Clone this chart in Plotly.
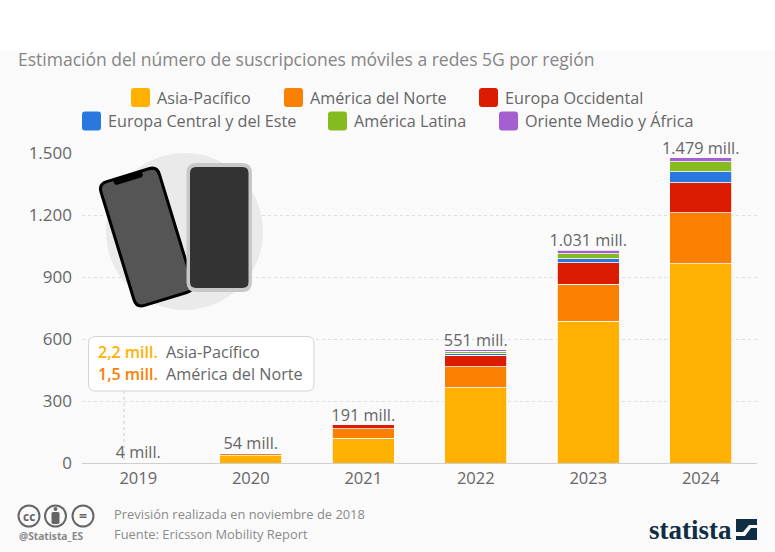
import math
import plotly.graph_objects as go

years = ["2019", "2020", "2021", "2022", "2023", "2024"]
series_names = ["Asia-Pacífico", "América del Norte", "Europa Occidental",
                "Europa Central y del Este", "América Latina", "Oriente Medio y África"]
asia = [2.2, 34, 120, 364, 687, 963]
north_america = [1.5, 14, 46, 102, 178, 248]
west_europe = [0, 0, 19, 56, 103, 145]
central_europe = [0, 0, 0, 10, 21, 54]
latin_america = [0, 0, 0, 9, 24, 48]
middle_east = [0.3, 0, 0, 6, 16, 18]
total_labels = ["4 mill.", "54 mill.", "191 mill.", "551 mill.", "1.031 mill.", "1.479 mill."]
colors = ["#ffb000", "#f98000", "#dc1c00", "#2a77e0", "#86bb1f", "#a45fd0"]
y_ticks = [0, 300, 600, 900, 1200, 1500]
y_labels = ["0", "300", "600", "900", "1.200", "1.500"]

FONT = "Open Sans"
W, H = 775, 552
L, R, T, B = 82, 757, 153, 463


def px(x):
    return (x - L) / (R - L)


def py(y):
    return (B - y) / (B - T)


def rrect(x0, y0, x1, y1, r, angle=0.0, pivot=None):
    cx, cy = pivot or ((x0 + x1) / 2, (y0 + y1) / 2)
    a = math.radians(angle)

    def p(x, y):
        dx, dy = x - cx, y - cy
        return (f"{px(cx + dx * math.cos(a) - dy * math.sin(a)):.5f},"
                f"{py(cy + dx * math.sin(a) + dy * math.cos(a)):.5f}")
    return (f"M{p(x0 + r, y0)} L{p(x1 - r, y0)} Q{p(x1, y0)} {p(x1, y0 + r)} "
            f"L{p(x1, y1 - r)} Q{p(x1, y1)} {p(x1 - r, y1)} L{p(x0 + r, y1)} "
            f"Q{p(x0, y1)} {p(x0, y1 - r)} L{p(x0, y0 + r)} Q{p(x0, y0)} {p(x0 + r, y0)} Z")


def poly(points):
    return "M" + " L".join(f"{px(x):.5f},{py(y):.5f}" for x, y in points) + " Z"


def box_shape(path, fill, line=None, lw=0):
    return dict(type="path", xref="paper", yref="paper", path=path, fillcolor=fill,
                line=dict(color=line or fill, width=lw), layer="above")


def text(x, y, s, size=15, color="#666666", anchor="left", family=FONT, weight=None):
    font = dict(family=family, size=size, color=color)
    if weight:
        font["weight"] = weight
    return dict(xref="paper", yref="paper", x=px(x), y=py(y), text=s, showarrow=False,
                xanchor=anchor, yanchor="middle", font=font, borderpad=0)


fig = go.Figure()
columns = [asia, north_america, west_europe, central_europe, latin_america, middle_east]
for name, values, color in zip(series_names, columns, colors):
    fig.add_bar(x=years, y=values, name=name, marker=dict(color=color, line=dict(color="#fafafa", width=0.8)))

stack_tops = [sum(c[i] for c in columns) for i in range(len(years))]
fig.add_scatter(x=years, y=stack_tops, mode="text", text=total_labels, textposition="top center",
                textfont=dict(family=FONT, size=16.3, color="#666666"), showlegend=False, cliponaxis=False)

PH = (146, 236.5)  # pivot of the tilted phone
shapes = [
    dict(type="rect", xref="paper", yref="paper", x0=px(0), x1=px(W), y0=py(0), y1=py(51),
         fillcolor="#ffffff", line=dict(width=0), layer="below"),
    dict(type="circle", xref="paper", yref="paper", x0=px(106), x1=px(263), y0=py(153), y1=py(310),
         fillcolor="#eaeaea", line=dict(width=0), layer="above"),
    box_shape(rrect(114.5, 171, 178.5, 303.5, 10, -17, PH), "#000000"),
    box_shape(rrect(117.5, 174, 175.5, 300.5, 7, -17, PH), "#555555"),
    box_shape(rrect(131, 172.5, 161, 178.5, 2.5, -17, PH), "#000000"),
    box_shape(rrect(186.5, 163, 252, 292, 10), "#c8c8c8"),
    box_shape(rrect(190, 167, 248.5, 288, 6), "#333333"),
    dict(type="line", xref="paper", yref="paper", x0=px(124), x1=px(124), y0=py(391), y1=py(463),
         line=dict(color="#cccccc", width=1, dash="dot"), layer="above"),
    box_shape(rrect(88.5, 336.5, 314, 391, 7), "#ffffff", "#d4d4d4", 1),
]

annotations = [
    text(96.5, 352, "2,2 mill.", 16, "#ffb000", weight=600),
    text(165, 352, "Asia-Pacífico", 16.2, "#666666"),
    text(96.5, 374, "1,5 mill.", 16, "#f98000", weight=600),
    text(165, 374, "América del Norte", 16.2, "#666666"),
    text(112.5, 514, "Previsión realizada en noviembre de 2018", 12.9, "#8a8a8a"),
    text(112.5, 534, "Fuente: Ericsson Mobility Report", 12.9, "#8a8a8a"),
    text(18, 536, "<b>@Statista_ES</b>", 10.2, "#888888"),
    text(29, 516, "<b>cc</b>", 12, "#666666", "center"),
    text(83, 515, "<b>=</b>", 14, "#666666", "center"),
    text(690, 530, "<b>statista</b>", 27, "#0f2e44", "center", "Liberation Sans Narrow"),
]

# Custom two-row legend
legend_positions = [(131, 97.5), (284, 97.5), (479, 97.5), (82, 121), (328, 121), (499, 121)]
for (lx, ly), name, color in zip(legend_positions, series_names, colors):
    shapes.append(box_shape(rrect(lx, ly - 9.5, lx + 19, ly + 9.5, 3), color))
    annotations.append(text(lx + 24.5, ly, name, 16.2, "#666666"))

# Licence icons
for cx in (29, 55.5, 83):
    shapes.append(dict(type="circle", xref="paper", yref="paper", x0=px(cx - 10.5), x1=px(cx + 10.5),
                       y0=py(516 - 10.5), y1=py(516 + 10.5), fillcolor="#fafafa",
                       line=dict(color="#666666", width=2), layer="above"))
shapes.append(dict(type="circle", xref="paper", yref="paper", x0=px(53.5), x1=px(57.5), y0=py(507), y1=py(511),
                   fillcolor="#666666", line=dict(width=0), layer="above"))
shapes.append(box_shape(rrect(51.5, 512, 59.5, 524, 1.5), "#666666"))

# Statista mark
shapes.append(box_shape(poly([(736, 519), (757, 519), (757, 540), (736, 540)]), "#0f2e44"))
shapes.append(box_shape(poly([(736, 532), (743, 532), (749, 525), (757, 525), (757, 528), (751, 528),
                              (745, 536), (736, 536)]), "#fafafa"))

fig.update_layout(
    width=W, height=H, autosize=False, barmode="stack", bargap=0.445,
    margin=dict(l=L, r=W - R, t=T, b=H - B, pad=0),
    paper_bgcolor="#fafafa", plot_bgcolor="rgba(0,0,0,0)", showlegend=False,
    title=dict(text="Estimación del número de suscripciones móviles a redes 5G por región",
               xref="container", yref="container", x=18 / W, y=1 - 60 / H, xanchor="left", yanchor="middle",
               font=dict(family=FONT, size=17.5, color="#858585")),
    xaxis=dict(type="category", categoryorder="array", categoryarray=years, showgrid=False,
               showline=True, linecolor="#cfcfcf", linewidth=1, ticks="", zeroline=False,
               tickfont=dict(family=FONT, size=16.5, color="#666666")),
    yaxis=dict(range=[0, 1500], tickvals=y_ticks, ticktext=y_labels, showgrid=True,
               gridcolor="#dedede", griddash="dot", gridwidth=1, zeroline=False, showline=False,
               ticks="", ticklabelstandoff=9, tickfont=dict(family=FONT, size=17, color="#666666")),
    shapes=shapes, annotations=annotations,
)

fig.write_html("out.html", config={"displayModeBar": False},
               post_script="document.body.style.margin='0';document.body.style.overflow='hidden';")
